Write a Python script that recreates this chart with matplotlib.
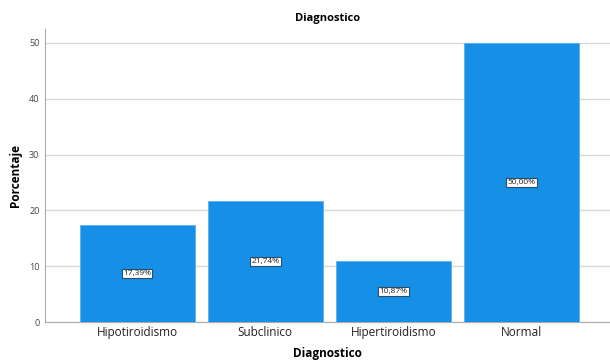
import matplotlib.pyplot as plt

categories = ["Hipotiroidismo", "Subclinico", "Hipertiroidismo", "Normal"]
percentages = [17.39, 21.74, 10.87, 50.00]
yticks = [0, 10, 20, 30, 40, 50]

plt.rcParams["font.family"] = ["Open Sans", "DejaVu Sans"]

fig = plt.figure(figsize=(6.1, 3.61), dpi=100)
ax = fig.add_axes([45 / 610, 39 / 361, 565 / 610, 293 / 361])

x = range(len(categories))
bars = ax.bar(x, percentages, width=0.9, color="#1590e6",
              edgecolor="#5fb0ee", linewidth=0.6, zorder=3)

for xi, v in zip(x, percentages):
    ax.text(xi, v / 2, f"{v:.2f}%".replace(".", ","), ha="center", va="center",
            fontsize=6, color="#222222", zorder=4,
            bbox=dict(boxstyle="square,pad=0.15", fc="white", ec="#2a4d69", lw=0.8))

ax.set_xlim(-0.72, 3.69)
ax.set_ylim(0, 52.5)
ax.set_yticks(yticks)
ax.set_xticks(list(x))
ax.set_xticklabels(categories, fontsize=8.5, color="#222222")
ax.tick_params(axis="y", labelsize=6.5, colors="#444444", length=0, pad=4)
ax.tick_params(axis="x", length=0, pad=3)
ax.grid(axis="y", color="#d9d9d9", linewidth=1.0, zorder=0)

for side in ["top", "right"]:
    ax.spines[side].set_visible(False)
for side in ["left", "bottom"]:
    ax.spines[side].set_color("#aaaaaa")
    ax.spines[side].set_linewidth(0.8)

ax.set_title("Diagnostico", fontsize=8, fontweight="bold", pad=6)
ax.set_ylabel("Porcentaje", fontsize=8.5, fontweight="bold", labelpad=5)
ax.set_xlabel("Diagnostico", fontsize=8.5, fontweight="bold", labelpad=6)

fig.savefig("out.png", dpi=100)
